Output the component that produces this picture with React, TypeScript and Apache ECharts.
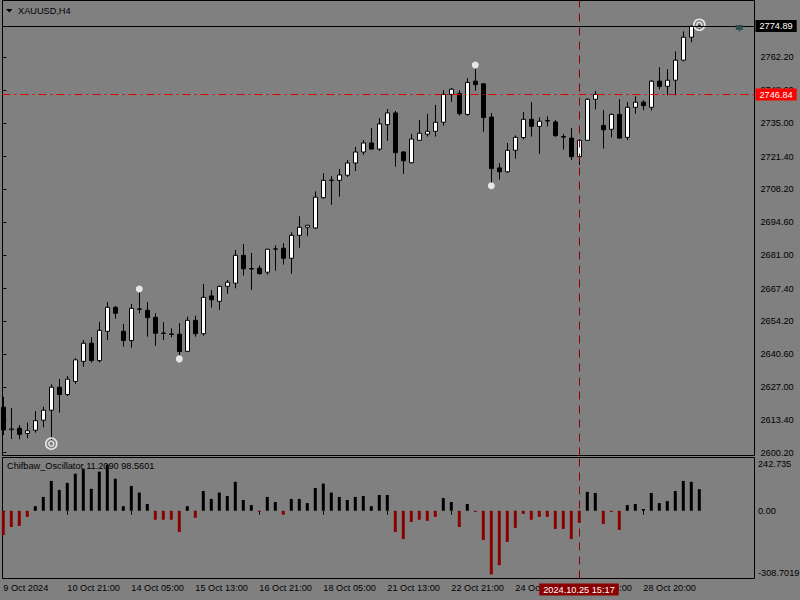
import React, { useEffect, useRef } from "react";
import * as echarts from "echarts";

// ---- data ----
const opens = [2618.8, 2609.6, 2610.2, 2608.1, 2609.4, 2613.5, 2617.6, 2627.0, 2624.0, 2629.4, 2637.6, 2645.0, 2637.9, 2649.9, 2659.7, 2649.9, 2646.1, 2658.9, 2658.5, 2655.6, 2649.2, 2648.8, 2648.7, 2641.7, 2654.4, 2648.9, 2664.4, 2662.2, 2668.3, 2669.6, 2681.0, 2675.6, 2675.7, 2674.1, 2683.5, 2683.9, 2679.8, 2689.2, 2692.5, 2692.2, 2704.6, 2711.6, 2711.7, 2713.8, 2718.8, 2723.3, 2727.0, 2724.5, 2734.5, 2739.3, 2723.3, 2718.9, 2728.1, 2730.6, 2731.8, 2735.5, 2746.9, 2747.3, 2738.7, 2752.3, 2751.2, 2737.6, 2716.8, 2715.2, 2724.0, 2729.2, 2736.7, 2733.8, 2736.0, 2735.6, 2729.6, 2729.0, 2721.4, 2728.1, 2744.9, 2734.2, 2732.6, 2738.7, 2729.3, 2741.6, 2743.7, 2741.6, 2752.3, 2750.2, 2752.7, 2760.9, 2770.3, 2774.5];
const highs = [2623.1, 2618.5, 2611.5, 2612.5, 2617.2, 2619.0, 2628.2, 2630.4, 2631.6, 2638.9, 2646.3, 2647.5, 2653.7, 2661.8, 2660.3, 2652.9, 2661.1, 2666.1, 2661.8, 2657.3, 2653.6, 2651.1, 2653.2, 2655.9, 2656.3, 2669.3, 2666.8, 2668.6, 2670.9, 2683.2, 2685.6, 2682.0, 2676.9, 2683.7, 2685.1, 2685.9, 2690.4, 2697.0, 2693.5, 2707.2, 2714.6, 2713.4, 2716.4, 2720.0, 2725.4, 2728.2, 2733.1, 2737.1, 2740.9, 2740.1, 2723.7, 2730.7, 2736.4, 2738.9, 2742.6, 2748.6, 2749.5, 2748.6, 2753.5, 2757.4, 2751.4, 2739.3, 2718.8, 2727.0, 2730.1, 2739.7, 2743.7, 2737.5, 2737.9, 2736.4, 2730.7, 2733.1, 2728.6, 2745.3, 2748.3, 2740.5, 2739.1, 2744.9, 2743.7, 2746.1, 2744.5, 2752.7, 2758.0, 2757.2, 2764.5, 2772.7, 2775.0, 2775.2];
const lows = [2607.4, 2605.8, 2605.7, 2606.1, 2608.4, 2610.6, 2605.4, 2616.6, 2623.4, 2628.3, 2635.4, 2637.1, 2637.1, 2646.3, 2655.1, 2643.6, 2643.2, 2657.3, 2647.7, 2644.0, 2646.3, 2647.5, 2640.2, 2641.6, 2647.7, 2648.1, 2659.6, 2658.7, 2665.3, 2667.5, 2672.7, 2666.9, 2673.1, 2673.1, 2674.7, 2677.2, 2673.5, 2684.1, 2689.0, 2691.9, 2704.2, 2701.7, 2705.0, 2713.1, 2715.5, 2722.1, 2724.3, 2723.8, 2727.9, 2717.3, 2714.4, 2718.7, 2728.0, 2729.6, 2729.6, 2734.1, 2743.9, 2738.2, 2738.2, 2748.4, 2731.6, 2710.5, 2712.0, 2714.8, 2720.6, 2728.5, 2729.6, 2722.6, 2733.8, 2729.5, 2724.3, 2720.0, 2718.0, 2728.0, 2740.8, 2724.7, 2729.3, 2728.8, 2728.1, 2739.0, 2740.4, 2740.2, 2749.0, 2746.5, 2746.5, 2760.4, 2768.2, 2773.9];
const closes = [2609.5, 2609.9, 2607.7, 2609.2, 2613.3, 2617.6, 2627.0, 2624.0, 2630.3, 2638.2, 2645.0, 2637.9, 2650.3, 2659.7, 2657.3, 2646.1, 2659.3, 2659.1, 2655.5, 2649.1, 2649.0, 2648.6, 2641.6, 2654.4, 2648.9, 2663.8, 2662.8, 2668.3, 2670.0, 2681.0, 2675.5, 2675.4, 2673.5, 2683.5, 2683.7, 2679.8, 2689.2, 2692.5, 2693.3, 2704.8, 2711.7, 2711.8, 2713.9, 2718.8, 2723.3, 2727.0, 2724.5, 2734.8, 2739.3, 2723.0, 2719.7, 2728.6, 2731.0, 2731.8, 2735.5, 2746.9, 2749.0, 2739.0, 2751.8, 2750.9, 2737.4, 2716.5, 2715.2, 2724.0, 2729.3, 2736.7, 2733.8, 2735.9, 2736.2, 2730.0, 2729.4, 2721.4, 2728.1, 2744.9, 2746.9, 2732.4, 2738.7, 2729.0, 2741.6, 2743.7, 2742.3, 2752.3, 2750.2, 2752.7, 2760.9, 2770.3, 2774.8, 2774.89];
const oscValues = [-110, -74, -69, -28, 21, 63, 136, 95, 127, 169, 192, 100, 178, 210, 146, 21, 113, 83, 31, -41, -41, -41, -97, 21, -32, 90, 54, 83, 67, 132, 49, 26, -5, 63, 40, -18, 54, 54, 35, 104, 124, 83, 63, 49, 63, 67, 21, 72, 72, -97, -129, -51, -41, -46, -28, 58, 40, -74, 31, -5, -133, -290, -248, -142, -78, -14, -41, -28, -28, -83, -83, -129, -55, 86, 81, -60, -5, -87, 26, 31, 8, 81, 35, 44, 90, 136, 132, 98.5601];

const priceTicks = [2762.2, 2748.6, 2735.0, 2721.4, 2708.2, 2694.6, 2681.0, 2667.4, 2654.2, 2640.6, 2627.0, 2613.4, 2600.2];
const timeLabelIdx = [0, 8, 16, 24, 32, 40, 48, 56, 64, 72, 80];
const timeLabels = ["9 Oct 2024", "10 Oct 21:00", "14 Oct 05:00", "15 Oct 13:00", "16 Oct 21:00", "18 Oct 05:00", "21 Oct 13:00", "22 Oct 21:00", "24 Oct 05:00", "25 Oct 13:00", "28 Oct 20:00"];
const dotMarkers = [[17, 2667.2], [22, 2638.6], [59, 2758.9], [61, 2709.5]];
const ringMarkers = [[6, 2603.9], [87, 2775.4]];

const symbolName = "XAUUSD,H4";
const oscName = "Chifbaw_Oscillator 11.2090 98.5601";
const bidPrice = 2774.89;
const crossPrice = 2746.84;
const crossBar = 71.96;
const crossTimeLabel = "2024.10.25 15:17";
const oscMax = 242.735;
const oscMin = -308.7019;
const oscTopLabel = "242.735";
const oscBottomLabel = "-308.7019";
const priceMin = 2599.05;
const priceMax = 2785.33;
const xMin = -0.1;
const xMax = 93.9;
const shiftMarkerBar = 92;

const FONT = "'Liberation Sans', Arial, sans-serif";
const FS = 9.2;

export default function App() {
  const ref = useRef<HTMLDivElement>(null);
  useEffect(() => {
    if (!ref.current) return;
    const chart = echarts.init(ref.current, undefined, { renderer: "svg" });
    const txt = { fontFamily: FONT, fontSize: FS, color: "#000" };
    const option: any = {
      animation: false,
      backgroundColor: "#808080",
      grid: [
        { left: 2.5, top: 0.5, width: 752, height: 455, show: true, borderColor: "#000", borderWidth: 1, backgroundColor: "transparent" },
        { left: 2.5, top: 457.5, width: 752, height: 121, show: true, borderColor: "#000", borderWidth: 1, backgroundColor: "transparent" },
      ],
      xAxis: [
        { type: "value", gridIndex: 0, min: xMin, max: xMax, show: false, splitLine: { show: false } },
        {
          type: "value", gridIndex: 1, min: xMin, max: xMax, position: "bottom",
          axisLine: { show: false },
          splitLine: { show: false },
          axisTick: { show: true, length: 4, customValues: timeLabelIdx, lineStyle: { color: "#000" } },
          axisLabel: {
            show: true, customValues: timeLabelIdx, align: "left", margin: 5, ...txt,
            formatter: (v: number) => { const k = timeLabelIdx.indexOf(Math.round(v)); return k >= 0 ? timeLabels[k] : ""; },
          },
        },
      ],
      yAxis: [
        {
          type: "value", gridIndex: 0, min: priceMin, max: priceMax, position: "right",
          axisLine: { show: false }, splitLine: { show: false },
          axisTick: { show: true, length: 3, customValues: priceTicks, lineStyle: { color: "#000" } },
          axisLabel: { show: true, customValues: priceTicks, margin: 6, formatter: (v: number) => v.toFixed(2), ...txt },
        },
        {
          type: "value", gridIndex: 1, min: oscMin, max: oscMax, position: "right",
          axisLine: { show: false }, splitLine: { show: false },
          axisTick: { show: true, length: 2, customValues: [0], lineStyle: { color: "#000" } },
          axisLabel: { show: true, customValues: [0], margin: 3.5, formatter: (v: number) => v.toFixed(2), ...txt },
        },
      ],
      series: [
        {
          type: "candlestick", xAxisIndex: 0, yAxisIndex: 0,
          data: opens.map((o, i) => [i, o, closes[i], lows[i], highs[i]]),
          encode: { x: 0, y: [1, 2, 3, 4] },
          barWidth: 4,
          itemStyle: { color: "#fff", color0: "#000", borderColor: "#000", borderColor0: "#000", borderWidth: 1 },
          markLine: {
            silent: true, symbol: ["none", "none"], animation: false,
            data: [
              {
                yAxis: bidPrice, lineStyle: { color: "#000", type: "solid", width: 1 },
                label: { show: true, position: "end", distance: 1, formatter: bidPrice.toFixed(2), backgroundColor: "#000", padding: [2, 4, 1, 4], fontFamily: FONT, fontSize: FS, color: "#fff" },
              },
              {
                yAxis: crossPrice, lineStyle: { color: "#e00000", type: [8, 4, 2, 4], width: 1 },
                label: { show: true, position: "end", distance: 1, formatter: crossPrice.toFixed(2), backgroundColor: "#ff0000", padding: [2, 4, 1, 4], fontFamily: FONT, fontSize: FS, color: "#fff" },
              },
              { xAxis: crossBar, lineStyle: { color: "#8b0000", type: [8, 6], width: 1 }, label: { show: false } },
            ],
          },
          z: 2,
        },
        {
          type: "scatter", xAxisIndex: 0, yAxisIndex: 0, data: dotMarkers, symbol: "circle", symbolSize: 7,
          itemStyle: { color: "#fff", borderWidth: 0 }, silent: true, z: 3,
        },
        {
          type: "scatter", xAxisIndex: 0, yAxisIndex: 0, data: ringMarkers, symbol: "circle", symbolSize: 11,
          itemStyle: { color: "rgba(0,0,0,0)", borderColor: "#fff", borderWidth: 1.6 }, silent: true, z: 3,
        },
        {
          type: "scatter", xAxisIndex: 0, yAxisIndex: 0, data: ringMarkers, symbol: "circle", symbolSize: 5,
          itemStyle: { color: "rgba(0,0,0,0)", borderColor: "#fff", borderWidth: 1.4 }, silent: true, z: 3,
        },
        {
          type: "bar", xAxisIndex: 1, yAxisIndex: 1, barWidth: 3,
          data: oscValues.map((v, i) => ({ value: [i, v], itemStyle: { color: v >= 0 ? "#000" : "#8b0000" } })),
          markLine: {
            silent: true, symbol: ["none", "none"], animation: false,
            data: [
              {
                xAxis: crossBar, lineStyle: { color: "#8b0000", type: [8, 6], width: 1 },
                label: { show: true, position: "start", distance: 5, formatter: crossTimeLabel, backgroundColor: "#8b0000", padding: [2, 4, 1, 4], fontFamily: FONT, fontSize: FS, color: "#fff" },
              },
            ],
          },
        },
      ],
    };
    chart.setOption(option);

    const oscTopY = chart.convertToPixel({ yAxisIndex: 1 }, oscMax) as number;
    const oscBotY = chart.convertToPixel({ yAxisIndex: 1 }, oscMin) as number;
    const shiftPt = chart.convertToPixel({ xAxisIndex: 0, yAxisIndex: 0 }, [shiftMarkerBar, bidPrice]) as number[];
    const gtxt = (text: string, x: number, y: number, color = "#000") => ({
      type: "text", x, y, silent: true, z: 50,
      style: { text, fill: color, font: `${FS}px ${FONT}`, textVerticalAlign: "middle", verticalAlign: "middle" },
    });
    chart.setOption({
      graphic: [
        { type: "polygon", silent: true, z: 50, shape: { points: [[6, 9], [12.5, 9], [9.25, 12.5]] }, style: { fill: "#000" } },
        gtxt(symbolName, 18, 10.5),
        gtxt(oscName, 7, 466),
        gtxt(oscTopLabel, 758, oscTopY + 6),
        gtxt(oscBottomLabel, 758, oscBotY - 5.5),
        { type: "rect", silent: true, z: 50, shape: { x: shiftPt[0] - 3.5, y: shiftPt[1] - 1, width: 7, height: 5 }, style: { fill: "#2f4f4f" } },
        { type: "rect", silent: true, z: 50, shape: { x: shiftPt[0] - 0.5, y: shiftPt[1] + 4, width: 1, height: 2 }, style: { fill: "#2f4f4f" } },
      ],
    });
    return () => chart.dispose();
  }, []);
  return <div ref={ref} style={{ position: "fixed", left: 0, top: 0, width: 800, height: 600 }} />;
}
